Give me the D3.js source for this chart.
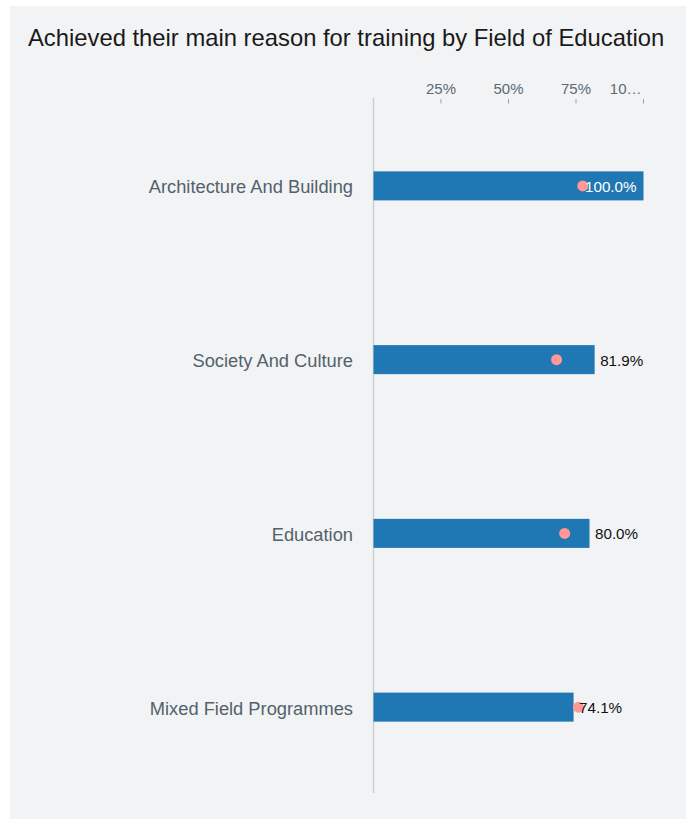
<!DOCTYPE html>
<html>
<head>
<meta charset="utf-8">
<script src="https://cdn.jsdelivr.net/npm/d3@7"></script>
<style>
  html, body { margin: 0; padding: 0; background: #ffffff; }
  svg { display: block; }
  text { font-family: "Liberation Sans", Arial, Helvetica, sans-serif; }
</style>
</head>
<body>
<svg id="chart" width="691" height="819"></svg>
<script>
const title = "Achieved their main reason for training by Field of Education";
const categories = ["Architecture And Building", "Society And Culture", "Education", "Mixed Field Programmes"];
const barValues = [100.0, 81.9, 80.0, 74.1];
const dotValues = [77.5, 67.8, 70.8, 75.9];
const tickValues = [25, 50, 75, 100];
const tickLabels = ["25%", "50%", "75%", "10…"];

const svg = d3.select("#chart");

svg.append("rect").attr("x", 10).attr("y", 6).attr("width", 676).attr("height", 813).attr("fill", "#f2f3f5");

svg.append("text").attr("x", 28).attr("y", 46).attr("font-size", 23.8).attr("fill", "#1a1a1a").text(title);

const x = d3.scaleLinear().domain([0, 100]).range([373.5, 643.5]);
const y = d3.scaleBand().domain(categories).range([99, 794]).paddingInner(0.833).paddingOuter(0.4165);

// axis line
svg.append("line").attr("x1", x(0)).attr("x2", x(0)).attr("y1", 98).attr("y2", 793)
  .attr("stroke", "#cfcfd1").attr("stroke-width", 1.5);

// ticks
const tg = svg.append("g").selectAll("g").data(tickValues).join("g")
  .attr("transform", d => `translate(${x(d)},0)`);
tg.append("line").attr("y1", 99).attr("y2", 103.5).attr("stroke", "#9aa3a9").attr("stroke-width", 1);
tg.append("text").attr("y", 94).attr("font-size", 15).attr("fill", "#5b6b75")
  .attr("text-anchor", (d, i) => i === tickValues.length - 1 ? "end" : "middle")
  .attr("dx", (d, i) => i === tickValues.length - 1 ? -2 : 0)
  .text((d, i) => tickLabels[i]);

// category labels
svg.append("g").selectAll("text").data(categories).join("text")
  .attr("x", 353).attr("y", d => y(d) + y.bandwidth() / 2 + 1)
  .attr("dominant-baseline", "central").attr("text-anchor", "end")
  .attr("font-size", 18.3).attr("fill", "#52626c").text(d => d);

// bars
svg.append("g").selectAll("rect").data(categories).join("rect")
  .attr("x", x(0)).attr("y", d => y(d)).attr("height", y.bandwidth())
  .attr("width", (d, i) => x(barValues[i]) - x(0)).attr("fill", "#1f77b4");

// dots
svg.append("g").selectAll("circle").data(categories).join("circle")
  .attr("cx", (d, i) => x(dotValues[i])).attr("cy", d => y(d) + y.bandwidth() / 2)
  .attr("r", 5.5).attr("fill", "#ff9896");

// value labels
svg.append("g").selectAll("text").data(categories).join("text")
  .attr("y", d => y(d) + y.bandwidth() / 2 + 0.5).attr("dominant-baseline", "central")
  .attr("font-size", 15.2)
  .each(function(d, i) {
    const v = barValues[i];
    const t = d3.select(this);
    if (v >= 95) {
      t.attr("x", x(v) - 7).attr("text-anchor", "end").attr("fill", "#ffffff");
    } else {
      t.attr("x", x(v) + 5.5).attr("text-anchor", "start").attr("fill", "#111111");
    }
    t.text(v.toFixed(1) + "%");
  });
</script>
</body>
</html>
